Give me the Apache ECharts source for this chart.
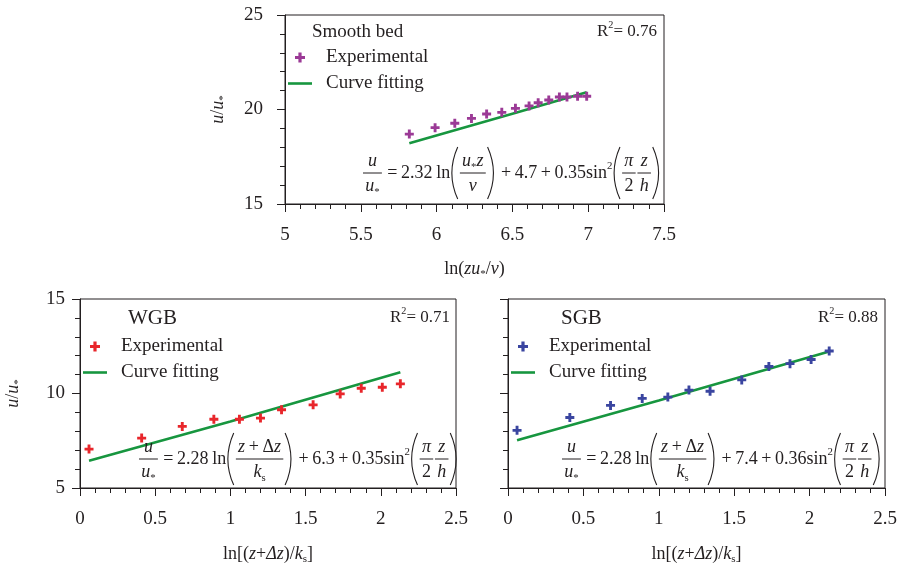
<!DOCTYPE html>
<html>
<head>
<meta charset="utf-8">
<script src="https://cdn.jsdelivr.net/npm/echarts@6/dist/echarts.min.js"></script>
<style>html,body{margin:0;padding:0;background:#fff;}#c{width:901px;height:566px;}</style>
</head>
<body>
<div id="c"></div>
<script>
// ---------------- DATA ----------------
const smoothX = [5.82, 5.99, 6.12, 6.23, 6.33, 6.43, 6.52, 6.61, 6.67, 6.74, 6.81, 6.86, 6.93, 6.99];
const smoothY = [18.70, 19.04, 19.27, 19.53, 19.76, 19.85, 20.06, 20.19, 20.36, 20.50, 20.66, 20.66, 20.70, 20.70];
const smoothFitX = [5.82, 6.5, 6.99];
const smoothFitY = [18.21, 19.78, 20.91];

const roughX = [0.06, 0.41, 0.68, 0.89, 1.06, 1.20, 1.34, 1.55, 1.73, 1.87, 2.01, 2.13];
const wgbY = [7.06, 7.64, 8.26, 8.64, 8.64, 8.70, 9.14, 9.40, 9.98, 10.28, 10.33, 10.51];
const sgbY = [8.05, 8.73, 9.37, 9.74, 9.81, 10.18, 10.12, 10.72, 11.43, 11.58, 11.80, 12.25];
const roughFitX = [0.06, 1.0, 2.13];
const wgbFitY = [6.44, 8.52, 11.13];
const sgbFitY = [7.52, 9.63, 12.22];

const smoothXTicks = [5, 5.5, 6, 6.5, 7, 7.5];
const roughXTicks = [0, 0.5, 1, 1.5, 2, 2.5];

// ---------------- STYLE ----------------
const FONT = '"Liberation Serif", "Times New Roman", serif';
const INK = '#231f20';
const GREEN = '#17963f';
const PURPLE = '#9b3a96';
const RED = '#e8262b';
const BLUE = '#3a45a0';
const PLUS = 'path://M3.4,0H6.6V3.4H10V6.6H6.6V10H3.4V6.6H0V3.4H3.4Z';
const LINEICON = 'path://M0,0H24V2.6H0Z';

const cv = document.createElement('canvas');
const ctx = cv.getContext('2d');
function tw(s, sz, it) { ctx.font = (it ? 'italic ' : '') + sz + 'px ' + FONT; return ctx.measureText(s).width; }

function runEls(runs, x, y, size) {
  const els = []; let cx = x;
  for (const [s, k] of runs) {
    let sz = size, it = false, dy = 0, pre = 0, post = 0;
    if (k === 'i') it = true;
    if (k === 'sub') { sz = size * 0.6; dy = size * 0.3; }
    if (k === 'sup') { sz = size * 0.6; dy = -size * 0.38; }
    if (k === 'op') { pre = size * 0.2; post = size * 0.2; }
    cx += pre;
    els.push({ type: 'text', x: cx, y: y + dy, silent: true, z: 100,
      style: { text: s, font: (it ? 'italic ' : '') + sz + 'px ' + FONT, fill: INK, align: 'left', verticalAlign: 'middle' } });
    cx += tw(s, sz, it) + post;
  }
  return { els, width: cx - x };
}

function buildEq(x0, yc, items, size) {
  let cx = x0; const out = [];
  for (const it of items) {
    if (it.k === 'runs') {
      const r = runEls(it.runs, cx, yc, size); out.push(...r.els); cx += r.width;
    } else if (it.k === 'frac') {
      const a = runEls(it.num, 0, 0, size).width, b = runEls(it.den, 0, 0, size).width;
      const W = Math.max(a, b) + size * 0.25;
      out.push(...runEls(it.num, cx + (W - a) / 2, yc - size * 0.64, size).els);
      out.push(...runEls(it.den, cx + (W - b) / 2, yc + size * 0.74, size).els);
      out.push({ type: 'line', silent: true, z: 100, shape: { x1: cx, y1: yc, x2: cx + W, y2: yc }, style: { stroke: INK, lineWidth: 1 } });
      cx += W + size * 0.1;
    } else if (it.k === 'par') {
      const pw = size * 0.42, h = size * 2.9;
      if (it.s === '(') {
        out.push({ type: 'bezierCurve', silent: true, z: 100, shape: { x1: cx + pw, y1: yc - h / 2, x2: cx + pw, y2: yc + h / 2, cpx1: cx - pw * 0.55, cpy1: yc }, style: { stroke: INK, lineWidth: 1.1, fill: 'none' } });
      } else {
        out.push({ type: 'bezierCurve', silent: true, z: 100, shape: { x1: cx, y1: yc - h / 2, x2: cx, y2: yc + h / 2, cpx1: cx + pw * 1.55, cpy1: yc }, style: { stroke: INK, lineWidth: 1.1, fill: 'none' } });
      }
      cx += pw + size * 0.12;
    }
  }
  return out;
}

function eqItems(coef, c1, c2, smooth) {
  const arg = smooth
    ? { k: 'frac', num: [['u', 'i'], ['*', 'sub'], ['z', 'i']], den: [['ν', 'i']] }
    : { k: 'frac', num: [['z', 'i'], ['+', 'op'], ['Δ', 'n'], ['z', 'i']], den: [['k', 'i'], ['s', 'sub']] };
  return [
    { k: 'frac', num: [['u', 'i']], den: [['u', 'i'], ['*', 'sub']] },
    { k: 'runs', runs: [['=', 'op'], [coef, 'n'], ['\u2009ln', 'n']] },
    { k: 'par', s: '(' }, arg, { k: 'par', s: ')' },
    { k: 'runs', runs: [['+', 'op'], [c1, 'n'], ['+', 'op'], [c2, 'n'], ['sin', 'n'], ['2', 'sup']] },
    { k: 'par', s: '(' },
    { k: 'frac', num: [['π', 'i']], den: [['2', 'n']] },
    { k: 'frac', num: [['z', 'i']], den: [['h', 'i']] },
    { k: 'par', s: ')' }
  ];
}

function rsq(val, right, y, size) {
  const runs = [['R', 'n'], ['2', 'sup'], ['= ' + val, 'n']];
  const w = runEls(runs, 0, 0, size).width;
  return runEls(runs, right - w, y, size).els;
}
function label(text, x, y, size) {
  return { type: 'text', x, y, silent: true, z: 100, style: { text, font: size + 'px ' + FONT, fill: INK, align: 'left', verticalAlign: 'middle' } };
}

const graphics = [].concat(
  [label('Smooth bed', 312, 32, 19), label('WGB', 128, 318, 21), label('SGB', 561, 318, 21)],
  rsq('0.76', 657, 32, 17), rsq('0.71', 450, 318, 17), rsq('0.88', 878, 318, 17),
  buildEq(363, 173, eqItems('2.32', '4.7', '0.35', true), 18),
  buildEq(139, 459, eqItems('2.28', '6.3', '0.35', false), 18),
  buildEq(562, 459, eqItems('2.28', '7.4', '0.36', false), 18)
);

const rich = {
  n: { fontFamily: FONT, fontSize: 18, color: INK },
  i: { fontFamily: FONT, fontSize: 18, fontStyle: 'italic', color: INK },
  s: { fontFamily: FONT, fontSize: 11, color: INK, padding: [10, 0, 0, 0] }
};

function xAx(gi, ticks, name, gap) {
  return {
    type: 'value', gridIndex: gi, min: ticks[0], max: ticks[ticks.length - 1], interval: ticks[1] - ticks[0],
    axisLine: { show: true, onZero: false, lineStyle: { color: INK, width: 1 } },
    axisTick: { show: true, inside: false, length: 8, lineStyle: { color: INK } },
    minorTick: { show: true, splitNumber: 5, length: 5, lineStyle: { color: INK } },
    splitLine: { show: false },
    axisLabel: { margin: 22, fontSize: 19, fontFamily: FONT, color: INK, showMaxLabel: true, showMinLabel: true },
    name, nameLocation: 'middle', nameGap: gap, nameTextStyle: { rich }
  };
}
function yAx(gi, min, max, name, margin, showLabel) {
  return {
    type: 'value', gridIndex: gi, min, max, interval: 5,
    axisLine: { show: true, onZero: false, lineStyle: { color: INK, width: 1 } },
    axisTick: { show: true, inside: false, length: 8, lineStyle: { color: INK } },
    minorTick: { show: true, splitNumber: 5, length: 5, lineStyle: { color: INK } },
    splitLine: { show: false },
    axisLabel: { show: showLabel, margin, fontSize: 19, fontFamily: FONT, color: INK, showMaxLabel: true, showMinLabel: true },
    name, nameLocation: 'middle', nameGap: 56, nameRotate: 90, nameTextStyle: { rich }
  };
}

const yName = '{i|u}{n|/}{i|u}{s|*}';
const xNameSmooth = '{n|ln(}{i|zu}{s|*}{n|/}{i|ν}{n|)}';
const xNameRough = '{n|ln[(}{i|z}{n|+}{i|Δz}{n|)/}{i|k}{s|s}{n|]}';

function legendAt(left, top, idx) {
  return {
    left, top, orient: 'vertical', itemWidth: 24, itemHeight: 10, itemGap: 5, selectedMode: false, padding: 0,
    data: [{ name: 'Experimental|' + idx, icon: PLUS }, { name: 'Curve fitting|' + idx, icon: LINEICON }],
    formatter: n => n.split('|')[0],
    textStyle: { fontFamily: FONT, fontSize: 19, color: INK, padding: [0, 0, 0, 9], lineHeight: 21 }
  };
}

const zip = (xs, ys) => xs.map((x, i) => [x, ys[i]]);
function fit(name, gi, xs, ys) {
  return { name, type: 'line', xAxisIndex: gi, yAxisIndex: gi, data: zip(xs, ys), showSymbol: false, symbol: 'none',
    lineStyle: { color: GREEN, width: 2.6 }, itemStyle: { color: GREEN }, z: 2, animation: false };
}
function pts(name, gi, xs, ys, color) {
  return { name, type: 'scatter', xAxisIndex: gi, yAxisIndex: gi, data: zip(xs, ys), symbol: PLUS, symbolSize: 9,
    itemStyle: { color, opacity: 1 }, z: 3, animation: false };
}

const option = {
  backgroundColor: '#fff',
  animation: false,
  grid: [
    { left: 285, top: 15, width: 379, height: 189, show: true, borderColor: INK, borderWidth: 1 },
    { left: 80, top: 299, width: 376, height: 189, show: true, borderColor: INK, borderWidth: 1 },
    { left: 508, top: 299, width: 377, height: 189, show: true, borderColor: INK, borderWidth: 1 }
  ],
  xAxis: [xAx(0, smoothXTicks, xNameSmooth, 55), xAx(1, roughXTicks, xNameRough, 56), xAx(2, roughXTicks, xNameRough, 56)],
  yAxis: [yAx(0, 15, 25, yName, 22, true), yAx(1, 5, 15, yName, 15, true), yAx(2, 5, 15, '', 15, false)],
  legend: [legendAt(288, 47, 0), legendAt(83, 336, 1), legendAt(511, 336, 2)],
  series: [
    fit('Curve fitting|0', 0, smoothFitX, smoothFitY),
    pts('Experimental|0', 0, smoothX, smoothY, PURPLE),
    fit('Curve fitting|1', 1, roughFitX, wgbFitY),
    pts('Experimental|1', 1, roughX, wgbY, RED),
    fit('Curve fitting|2', 2, roughFitX, sgbFitY),
    pts('Experimental|2', 2, roughX, sgbY, BLUE)
  ],
  graphic: { elements: graphics }
};

const chart = echarts.init(document.getElementById('c'), null, { renderer: 'canvas' });
chart.setOption(option);
</script>
</body>
</html>
